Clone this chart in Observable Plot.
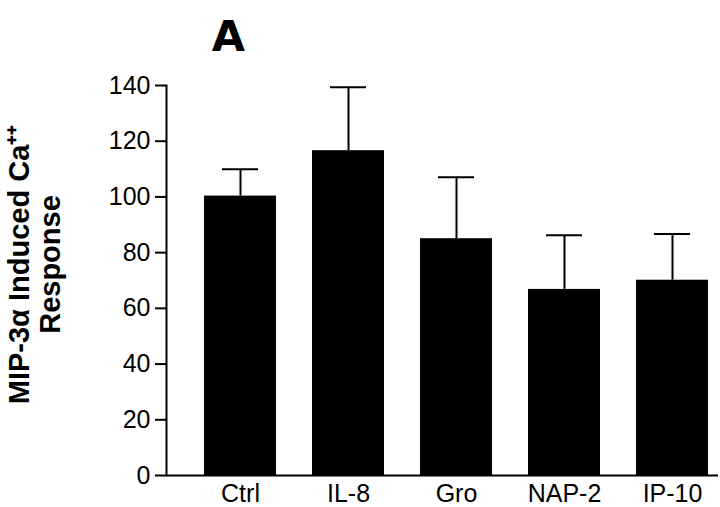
<!DOCTYPE html>
<html><head><meta charset="utf-8">
<script src="https://cdn.jsdelivr.net/npm/d3@7"></script>
<script src="https://cdn.jsdelivr.net/npm/@observablehq/plot@0.6"></script>
<style>body{margin:0;background:#fff;}</style>
</head><body><div id="chart"></div>
<script>
const categories = ["Ctrl", "IL-8", "Gro", "NAP-2", "IP-10"];
const means = [100.3, 116.6, 85, 66.8, 70.1];
const errors = [9.6, 22.8, 22.1, 19.4, 16.6];
const yTicks = [0, 20, 40, 60, 80, 100, 120, 140];
const title = "A";
const yLabel = "MIP-3α Induced Ca⁺⁺\nResponse";

const data = categories.map((c, i) => ({cat: c, mean: means[i], top: means[i] + errors[i]}));

const chart = Plot.plot({
  width: 720, height: 507,
  marginTop: 85, marginBottom: 32, marginLeft: 166, marginRight: 2,
  style: {fontFamily: "'Liberation Sans', Arial, Helvetica, sans-serif", fontSize: "25px", color: "black", background: "white", overflow: "visible"},
  x: {domain: categories, paddingInner: 0.33, paddingOuter: 0.204, align: 0.8},
  y: {domain: [0, 140]},
  marks: [
    Plot.barY(data, {x: "cat", y: "mean", fill: "black"}),
    Plot.ruleX(data, {x: "cat", y1: "mean", y2: "top", stroke: "black", strokeWidth: 2}),
    Plot.tickY(data, {x: "cat", y: "top", stroke: "black", strokeWidth: 2, insetLeft: 18, insetRight: 18}),
    Plot.ruleY([0], {stroke: "black", strokeWidth: 2}),
    Plot.frame({anchor: "left", stroke: "black", strokeWidth: 2}),
    Plot.axisY({ticks: yTicks, tickSize: 11, tickPadding: 5, strokeWidth: 2, label: null}),
    Plot.axisX({tickSize: 0, tickPadding: 9, label: null}),
    Plot.text([title], {text: d => d, frameAnchor: "top-left", dx: 62, dy: -65, lineAnchor: "top", textAnchor: "middle", fontSize: 43, fontWeight: "bold", fontFamily: "'DejaVu Sans', sans-serif"}),
    Plot.text([yLabel], {text: d => d, frameAnchor: "left", rotate: -90, dx: -132, dy: -16, textAnchor: "middle", fontSize: 29, fontWeight: "bold", lineHeight: 1.08})
  ]
});
document.getElementById("chart").appendChild(chart);
</script>
</body></html>
